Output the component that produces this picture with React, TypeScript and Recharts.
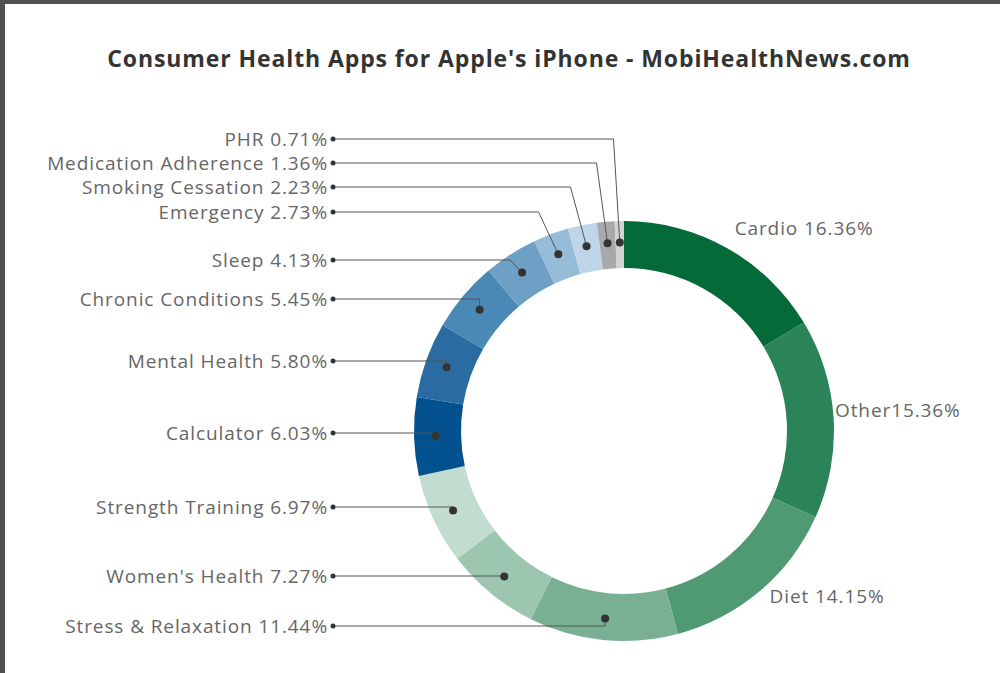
import React from 'react';
import { PieChart, Pie, Cell } from 'recharts';

const CATEGORIES = [
  'Cardio',
  'Other',
  'Diet',
  'Stress & Relaxation',
  "Women's Health",
  'Strength Training',
  'Calculator',
  'Mental Health',
  'Chronic Conditions',
  'Sleep',
  'Emergency',
  'Smoking Cessation',
  'Medication Adherence',
  'PHR',
];
const SHARES = [16.36, 15.36, 14.15, 11.44, 7.27, 6.97, 6.03, 5.8, 5.45, 4.13, 2.73, 2.23, 1.36, 0.71];
const COLORS = [
  '#046a38', '#2b8457', '#4f9a73', '#79b094', '#9dc6b0', '#c2ddd0',
  '#03518f', '#2a6ca1', '#4a88b5', '#6ea0c6', '#97bcd8', '#bfd6e8',
  '#a8a9ad', '#d3d3d3',
];
// layout: y of left-side label rows (for slices index 3..13)
const LEFT_LABEL_Y = [626, 576, 507, 433, 361, 299, 260, 212, 187, 163, 139];

const data = CATEGORIES.map((name, i) => ({ name, value: SHARES[i] }));

const W = 1000;
const H = 673;
const CX = 619;
const CY = 426;
const R_OUT = 210;
const R_IN = 163;
const RAD = Math.PI / 180;
const FONT = '"Open Sans", sans-serif';

const labelText = (name: string, v: number) =>
  name === 'Other' ? `${name}${v.toFixed(2)}%` : `${name} ${v.toFixed(2)}%`;

const renderLabel = (props: any) => {
  const { cx, cy, midAngle, index } = props;
  const name = CATEGORIES[index];
  const v = SHARES[index];
  const dirX = Math.cos(-midAngle * RAD);
  const dirY = Math.sin(-midAngle * RAD);
  if (index < 3) {
    const R = 225;
    const x = Math.min(cx + R * dirX, 835);
    const y = cy + R * dirY - 7;
    return (
      <text
        key={`l-${index}`}
        x={x}
        y={y}
        textAnchor="start"
        dominantBaseline="central"
        fill="#666"
        fontSize={19}
        letterSpacing={0.9}
        fontFamily={FONT}
      >
        {labelText(name, v)}
      </text>
    );
  }
  const rMid = (R_IN + R_OUT) / 2 + 2;
  const sx = cx + rMid * dirX;
  const sy = cy + rMid * dirY;
  const ly = LEFT_LABEL_Y[index - 3];
  const lx = 333;
  let bendX = sx;
  const dy = ly - sy;
  if (Math.abs(dy) > 12 && Math.abs(dirY) > 0.3 && Math.sign(dirY) === Math.sign(dy)) {
    bendX = sx + dy * (dirX / dirY) - 4;
  }
  const pts = `${lx},${ly} ${bendX},${ly} ${sx},${sy}`;
  return (
    <g key={`l-${index}`}>
      <polyline points={pts} fill="none" stroke="#555" strokeWidth={1} />
      <circle cx={lx} cy={ly} r={2.5} fill="#333" />
      <circle cx={sx} cy={sy} r={4} fill="#333" />
      <text
        x={lx - 5}
        y={ly}
        textAnchor="end"
        dominantBaseline="central"
        fill="#666"
        fontSize={19}
        letterSpacing={0.9}
        fontFamily={FONT}
      >
        {labelText(name, v)}
      </text>
    </g>
  );
};

export default function App() {
  return (
    <div
      style={{
        position: 'fixed',
        left: 0,
        top: 0,
        width: W,
        height: H,
        background: '#fff',
        overflow: 'hidden',
      }}
    >
      <div style={{ position: 'absolute', left: 0, top: 0, width: W, height: 4, background: '#505050' }} />
      <div style={{ position: 'absolute', left: 0, top: 0, width: 5, height: H, background: '#505050' }} />
      <div
        style={{
          position: 'absolute',
          left: 0,
          top: 42,
          width: 1018,
          textAlign: 'center',
          fontFamily: FONT,
          fontWeight: 700,
          fontSize: 23,
          letterSpacing: 0.9,
          color: '#333',
          lineHeight: '32px',
        }}
      >
        Consumer Health Apps for Apple's iPhone - MobiHealthNews.com
      </div>
      <div style={{ position: 'absolute', left: 0, top: 0 }}>
        <PieChart width={W} height={H}>
          <Pie
            data={data}
            dataKey="value"
            nameKey="name"
            cx={CX}
            cy={CY}
            innerRadius={R_IN}
            outerRadius={R_OUT}
            startAngle={90}
            endAngle={-270}
            stroke="none"
            label={renderLabel}
            labelLine={false}
            isAnimationActive={false}
          >
            {data.map((d, i) => (
              <Cell key={d.name} fill={COLORS[i]} />
            ))}
          </Pie>
        </PieChart>
      </div>
    </div>
  );
}
